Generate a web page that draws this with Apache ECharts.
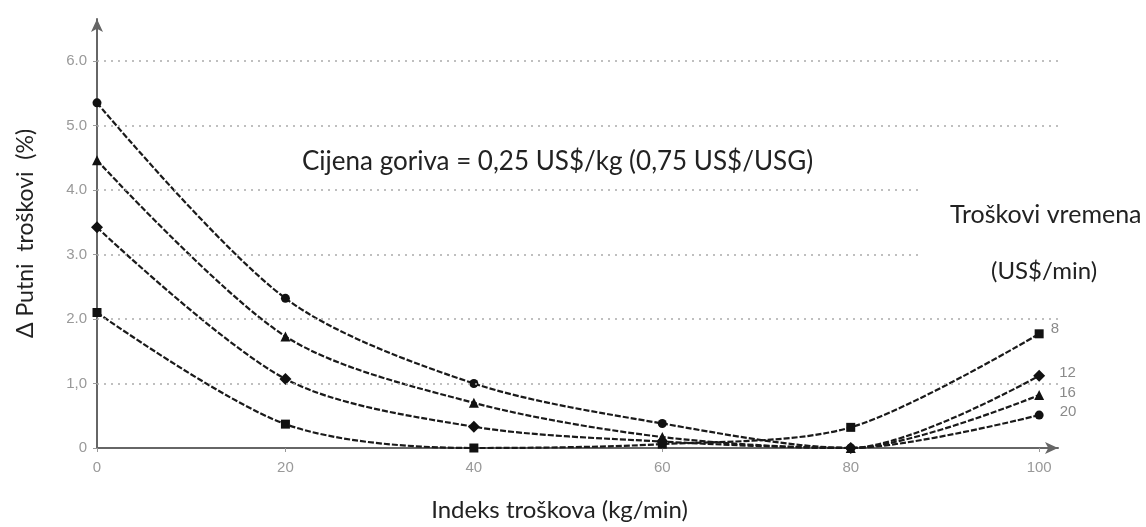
<!DOCTYPE html>
<html>
<head>
<meta charset="utf-8">
<script src="https://cdn.jsdelivr.net/npm/echarts@6/dist/echarts.min.js"></script>
<style>html,body{margin:0;padding:0;background:#fff}#c{width:1146px;height:527px}</style>
</head>
<body>
<div id="c"></div>
<script>
// Cost index (kg/min)
var costIndex = [0, 20, 40, 60, 80, 100];
// Δ trip cost (%) per time cost (US$/min)
var tc8  = [2.10, 0.37, 0.00, 0.06, 0.32, 1.77];
var tc12 = [3.42, 1.07, 0.33, 0.10, 0.00, 1.12];
var tc16 = [4.46, 1.73, 0.70, 0.17, 0.00, 0.82];
var tc20 = [5.35, 2.32, 1.00, 0.38, 0.00, 0.51];
var seriesNames = ['8', '12', '16', '20'];
var gridValues = [1, 2, 3, 4, 5, 6];

var FONT = 'Lato, "Open Sans", sans-serif';
var chart = echarts.init(document.getElementById('c'), null, {renderer: 'canvas'});

function build(vals, name, symbol, size, labelOffset) {
  return {
    name: name,
    type: 'line',
    smooth: 0.3,
    symbol: symbol,
    symbolSize: size,
    lineStyle: {color: '#1a1a1a', width: 2.2, type: [6, 2]},
    itemStyle: {color: '#111'},
    data: vals.map(function (v, i) {
      var d = {value: [costIndex[i], v]};
      if (i === vals.length - 1) {
        d.label = {show: true, position: 'right', formatter: name, color: '#8a8a8a',
          fontSize: 15, fontFamily: 'Arial, sans-serif', offset: labelOffset};
      }
      return d;
    }),
    z: 3
  };
}

var series = [
  build(tc8, seriesNames[0], 'rect', 9, [2, -5]),
  build(tc12, seriesNames[1], 'diamond', 12, [9, -3]),
  build(tc16, seriesNames[2], 'triangle', 10, [10, -2]),
  build(tc20, seriesNames[3], 'circle', 9, [11, -3])
];
// grid lines
series.push({
  type: 'line', data: [], silent: true,
  markLine: {
    silent: true, symbol: 'none', label: {show: false},
    lineStyle: {color: '#aaa', type: [2, 5], width: 1.5},
    data: gridValues.map(function (g) { return {yAxis: g}; })
  },
  z: 1
});

chart.setOption({
  animation: false,
  backgroundColor: '#fff',
  grid: {left: 97, right: 88, top: 19, bottom: 74},
  xAxis: {
    type: 'value', min: 0, max: 102, interval: 20,
    name: 'Indeks troškova (kg/min)', nameLocation: 'middle', nameGap: 50,
    nameTextStyle: {fontSize: 24, color: '#222', fontFamily: FONT, padding: [0, 36, 0, 0]},
    axisLine: {show: true, lineStyle: {color: '#666', width: 2}, symbol: ['none', 'arrow'], symbolSize: [9, 13]},
    axisTick: {show: true, length: 4, lineStyle: {color: '#999'}},
    axisLabel: {color: '#999', fontSize: 15, margin: 12, fontFamily: 'Arial, sans-serif', showMaxLabel: false,
      formatter: function (v) { return v % 20 === 0 ? String(v) : ''; }},
    splitLine: {show: false}
  },
  yAxis: {
    type: 'value', min: 0, max: 6.65, interval: 1,
    name: 'Δ Putni  troškovi  (%)', nameLocation: 'middle', nameGap: 60, nameRotate: 90,
    nameTextStyle: {fontSize: 23, color: '#222', fontFamily: FONT},
    axisLine: {show: true, lineStyle: {color: '#666', width: 2}, symbol: ['none', 'arrow'], symbolSize: [9, 13]},
    axisTick: {show: true, length: 4, inside: false, lineStyle: {color: '#999'}},
    axisLabel: {color: '#999', fontSize: 15, margin: 10, fontFamily: 'Arial, sans-serif', showMaxLabel: false,
      formatter: function (v) {
        if (v === 0) return '0';
        if (Math.abs(v - Math.round(v)) > 1e-6) return '';
        if (v === 1) return '1,0';
        return v.toFixed(1);
      }},
    splitLine: {show: false}
  },
  graphic: [
    {type: 'rect', left: 922, top: 183, shape: {width: 224, height: 84}, style: {fill: '#fff'}, z: 100},
    {type: 'text', left: 302, top: 149, z: 101,
      style: {text: 'Cijena goriva = 0,25 US$/kg (0,75 US$/USG)', fontSize: 26, fill: '#222', fontFamily: FONT}},
    {type: 'text', left: 950, top: 202, z: 101,
      style: {text: 'Troškovi vremena', fontSize: 25, fill: '#222', fontFamily: FONT}},
    {type: 'text', left: 991, top: 259, z: 101,
      style: {text: '(US$/min)', fontSize: 24, fill: '#222', fontFamily: FONT}}
  ],
  series: series
});
</script>
</body>
</html>
